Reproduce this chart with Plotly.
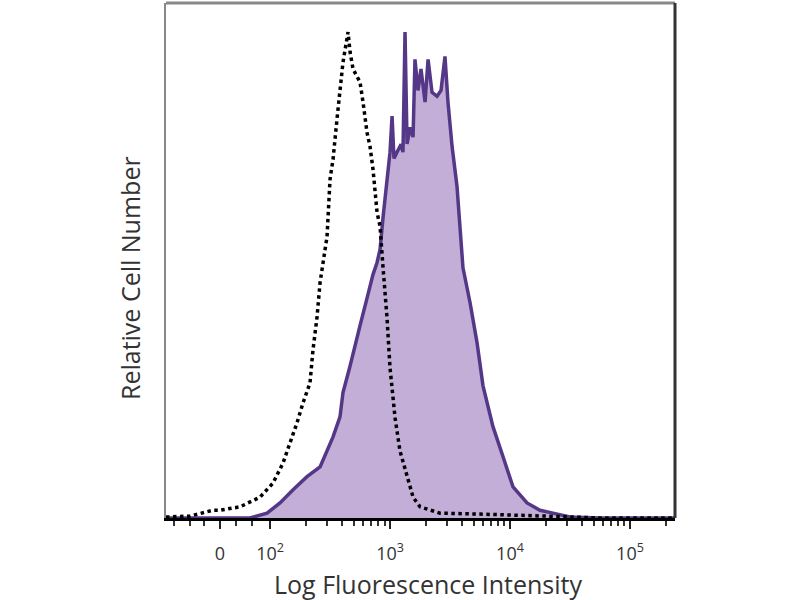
import plotly.graph_objects as go

# x in decade units of a logicle-style axis (2 = 10^2, 3 = 10^3 ...), y = relative cell number (% of max)
isotype_x = [1.133, 1.333, 1.525, 1.583, 1.75, 1.917, 2.025, 2.108, 2.167, 2.225, 2.275, 2.333, 2.358,
             2.392, 2.417, 2.442, 2.475, 2.5, 2.525, 2.558, 2.583, 2.608, 2.65, 2.667, 2.692, 2.75,
             2.775, 2.808, 2.833, 2.858, 2.892, 2.917, 2.942, 2.975, 3.0, 3.042, 3.083, 3.142, 3.192,
             3.25, 3.417, 3.75, 4.083, 4.417, 4.75, 5.375]
isotype_y = [0.2, 0.4, 1.6, 1.6, 2.3, 4.3, 7.2, 11.3, 15.5, 19.6, 23.7, 27.8, 34.6,
             41.4, 48.5, 52.6, 57.9, 69.7, 73.8, 82.1, 88.9, 93.8, 100.0, 95.9, 92.4, 89.7,
             85.6, 79.4, 76.5, 71.8, 62.9, 60.0, 51.5, 41.2, 30.9, 20.6, 13.8, 8.5, 4.3,
             2.3, 1.0, 0.8, 0.6, 0.3, 0.0, 0.0]

stained_x = [1.133, 1.833, 1.975, 2.083, 2.192, 2.308, 2.417, 2.475, 2.525, 2.583, 2.608, 2.667, 2.725,
             2.75, 2.808, 2.858, 2.892, 2.917, 2.942, 2.975, 3.0, 3.017, 3.033, 3.058, 3.092, 3.108,
             3.125, 3.142, 3.167, 3.192, 3.208, 3.233, 3.258, 3.292, 3.317, 3.35, 3.392, 3.425, 3.458,
             3.483, 3.517, 3.558, 3.583, 3.608, 3.667, 3.725, 3.775, 3.858, 3.942, 4.025, 4.142, 4.25,
             4.358, 4.5, 4.75, 5.375]
stained_y = [0.0, 0.0, 1.0, 3.1, 5.8, 8.5, 10.5, 14.0, 16.7, 20.8, 25.8, 31.3, 37.5,
             39.6, 45.2, 50.1, 52.6, 55.3, 61.9, 68.7, 75.3, 82.7, 74.0, 75.3, 76.9, 75.3,
             100.0, 77.0, 80.4, 78.4, 94.4, 88.0, 92.4, 85.6, 94.4, 87.6, 86.8, 88.0, 95.0,
             85.6, 76.5, 68.3, 60.0, 51.5, 44.3, 36.1, 27.2, 18.8, 12.6, 6.4, 3.1, 1.6,
             1.0, 0.2, 0.0, 0.0]

major_ticks = [1.583, 2, 3, 4, 5]
major_labels = ["0", "10<sup>2</sup>", "10<sup>3</sup>", "10<sup>4</sup>", "10<sup>5</sup>"]
minor_ticks = [1.2, 1.33, 1.45, 1.72, 1.85,
               2.301, 2.477, 2.602, 2.699, 2.778, 2.845, 2.903, 2.954,
               3.301, 3.477, 3.602, 3.699, 3.778, 3.845, 3.903, 3.954,
               4.301, 4.477, 4.602, 4.699, 4.778, 4.845, 4.903, 4.954, 5.301]

x_title = "Log Fluorescence Intensity"
y_title = "Relative Cell Number"

fig = go.Figure()
fig.add_trace(go.Scatter(x=stained_x, y=stained_y, mode="lines", fill="tozeroy",
                         fillcolor="rgb(194,174,214)",
                         line=dict(color="rgb(85,55,135)", width=3.5), hoverinfo="skip"))
fig.add_trace(go.Scatter(x=isotype_x, y=isotype_y, mode="lines",
                         line=dict(color="black", width=3.5, dash="dot"), hoverinfo="skip"))

font_family = "Open Sans, Lato, sans-serif"
fig.update_layout(
    width=800, height=600, showlegend=False,
    plot_bgcolor="white", paper_bgcolor="white",
    margin=dict(l=166, r=125, t=3, b=82, autoexpand=False),
    font=dict(family=font_family, color="#333333"),
    xaxis=dict(range=[1.133, 5.375], showgrid=False, zeroline=False, automargin=False,
               showline=True, linecolor="black", linewidth=3,
               tickmode="array", tickvals=major_ticks, ticktext=major_labels,
               ticks="outside", ticklen=8, tickwidth=2, tickcolor="#222222",
               ticklabelstandoff=9,
               tickfont=dict(size=18, color="#333333"),
               minor=dict(tickmode="array", tickvals=minor_ticks, ticks="outside",
                          ticklen=5, tickwidth=1.5, tickcolor="#333333")),
    yaxis=dict(range=[0, 106], showgrid=False, zeroline=False, showticklabels=False,
               automargin=False,
               showline=True, linecolor="#888888", linewidth=1.5, ticks=""),
    annotations=[
        dict(text=x_title, xref="paper", yref="paper", x=0.515, y=-0.128,
             xanchor="center", yanchor="middle", showarrow=False,
             font=dict(size=25, color="#333333")),
        dict(text=y_title, xref="paper", yref="paper", x=-0.0707, y=0.466,
             xanchor="center", yanchor="middle", showarrow=False, textangle=-90,
             font=dict(size=25, color="#333333")),
    ],
    shapes=[
        dict(type="line", xref="paper", yref="paper", x0=0, x1=1, y0=1, y1=1,
             line=dict(color="#888888", width=3)),
        dict(type="line", xref="paper", yref="paper", x0=1, x1=1, y0=0, y1=1,
             line=dict(color="#333333", width=3)),
    ],
)

fig.write_html("out.html", config={"displayModeBar": False},
               post_script="document.body.style.margin='0';")
